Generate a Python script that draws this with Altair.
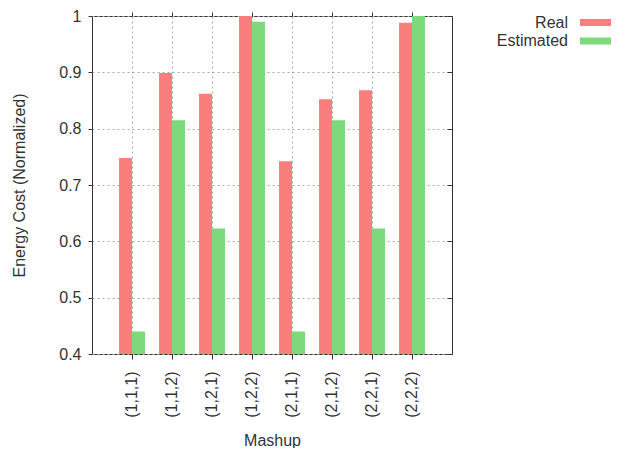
import altair as alt
import pandas as pd

mashups = ["(1,1,1)", "(1,1,2)", "(1,2,1)", "(1,2,2)",
           "(2,1,1)", "(2,1,2)", "(2,2,1)", "(2,2,2)"]
series = ["Real", "Estimated"]
real = [0.748, 0.899, 0.862, 1.0, 0.742, 0.852, 0.868, 0.988]
estimated = [0.440, 0.815, 0.623, 0.990, 0.440, 0.815, 0.623, 1.0]
colors = ["#f97f7f", "#7dd97b"]
y_ticks = [0.4, 0.5, 0.6, 0.7, 0.8, 0.9, 1.0]

rows = []
for i, m in enumerate(mashups):
    rows.append({"mashup": m, "series": "Real", "value": real[i]})
    rows.append({"mashup": m, "series": "Estimated", "value": estimated[i]})
df = pd.DataFrame(rows)
legend_df = pd.DataFrame({"series": series})

FONT = "Liberation Sans"
FS = 16
TXT = "#333333"
GRID = "#a8a8a8"

xscale = alt.Scale(domain=mashups, paddingInner=0, paddingOuter=0.5)
yscale = alt.Scale(domain=[0.4, 1.0], zero=False, nice=False)
cscale = alt.Scale(domain=series, range=colors)

bars = alt.Chart(df).mark_bar(clip=True).encode(
    x=alt.X("mashup:N", sort=mashups, scale=xscale, title="Mashup",
            axis=alt.Axis(orient="bottom", bandPosition=0.5, labelAngle=-90,
                          grid=True, gridDash=[2, 3], gridColor=GRID,
                          domain=False, tickSize=5, labelPadding=12,
                          titlePadding=15)),
    xOffset=alt.XOffset("series:N", sort=series,
                        scale=alt.Scale(domain=series, paddingInner=0, paddingOuter=0.54)),
    y=alt.Y("value:Q", scale=yscale, title="Energy Cost (Normalized)",
            axis=alt.Axis(values=y_ticks, format=".1~f", grid=True,
                          gridDash=[2, 3], gridColor=GRID, domain=False,
                          tickSize=4, labelPadding=7, titlePadding=31)),
    y2=alt.datum(0.4),
    color=alt.Color("series:N", sort=series, scale=cscale, legend=None),
)

ticks = alt.Chart(df).mark_tick(opacity=0).encode(
    x=alt.X("mashup:N", sort=mashups, scale=xscale,
            axis=alt.Axis(orient="top", bandPosition=0.5, labels=False,
                          domain=False, grid=False, tickSize=4, title=None)),
    y=alt.Y("value:Q", scale=yscale,
            axis=alt.Axis(orient="right", values=y_ticks, labels=False,
                          domain=False, grid=False, tickSize=5, offset=-5,
                          title=None)),
)

leg_y = alt.Y("series:N", sort=series,
              scale=alt.Scale(type="point", domain=series, range=[6.5, 25], padding=0),
              axis=None)

leg_swatch = alt.Chart(legend_df).mark_rule(strokeWidth=7, strokeCap="butt").encode(
    x=alt.value(488), x2=alt.value(530), y=leg_y,
    color=alt.Color("series:N", sort=series, scale=cscale, legend=None),
)

leg_text = alt.Chart(legend_df).mark_text(
    align="right", baseline="middle", font=FONT, fontSize=FS, color=TXT
).encode(
    x=alt.value(476), y=leg_y, text="series:N",
)

chart = alt.layer(bars, ticks, leg_swatch, leg_text).resolve_scale(
    y="independent"
).resolve_axis(
    x="independent", y="independent"
).properties(
    width=360, height=338,
    autosize=alt.AutoSizeParams(type="none"),
    padding={"left": 84, "top": 8, "right": 159, "bottom": 94},
).configure_view(
    stroke="#333333", strokeWidth=1
).configure_axis(
    labelFont=FONT, titleFont=FONT, labelFontSize=FS, titleFontSize=FS,
    labelColor=TXT, titleColor=TXT, titleFontWeight="normal", tickColor=TXT,
)

chart.save("out.html", embed_options={"renderer": "svg", "actions": False})
